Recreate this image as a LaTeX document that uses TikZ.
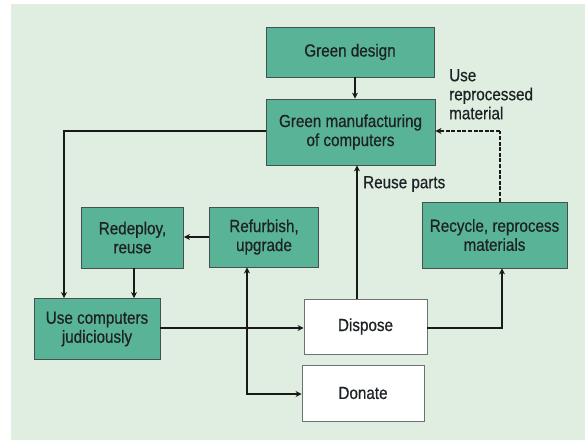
\documentclass[tikz,border=0pt]{standalone}
\usepackage{fontspec}
\setmainfont{Liberation Sans}[FakeStretch=0.87,FakeBold=0.6]
\usetikzlibrary{arrows.meta,calc}
\definecolor{bgc}{RGB}{223,238,224}
\definecolor{boxc}{RGB}{89,180,151}
\definecolor{edgec}{RGB}{70,80,76}
\definecolor{txtc}{RGB}{30,34,36}
\begin{document}
\begin{tikzpicture}[x=1pt,y=-1pt,
  every node/.style={font=\fontsize{17.5}{19}\selectfont, text=txtc},
  gbox/.style={draw=edgec, line width=0.9pt, fill=boxc, align=center, inner sep=0pt},
  wbox/.style={draw=edgec!80, line width=0.9pt, fill=white, align=center, inner sep=0pt},
  conn/.style={draw=black!90, line width=2.7pt, -{Stealth[length=6pt,width=6pt]}},
  thinconn/.style={draw=black!90, line width=2.1pt, -{Stealth[length=6pt,width=6pt]}},
  lbl/.style={align=left, inner sep=0pt}
]
\useasboundingbox (0,0) rectangle (585,440);
\fill[white] (0,0) rectangle (585,440);
\fill[bgc] (11,4) rectangle (585,440);

\node[gbox, minimum width=168pt, minimum height=50pt] (design) at (350,52) {Green design};
\node[gbox, minimum width=169pt, minimum height=66pt] (manuf) at (350.5,132) {Green manufacturing\\of computers};
\node[gbox, minimum width=102pt, minimum height=61pt] (redeploy) at (132.5,237.5) {Redeploy,\\reuse};
\node[gbox, minimum width=109pt, minimum height=60pt] (refurb) at (264,237) {Refurbish,\\upgrade};
\node[gbox, minimum width=145pt, minimum height=66pt] (recycle) at (494.5,235) {Recycle, reprocess\\materials};
\node[gbox, minimum width=126pt, minimum height=61pt] (use) at (97,329) {Use computers\\judiciously};
\node[wbox, minimum width=123pt, minimum height=55pt] (dispose) at (365.5,326.5) {Dispose};
\node[wbox, minimum width=122pt, minimum height=56pt] (donate) at (363,393) {Donate};

\coordinate (xa) at (355,0);
\coordinate (xl) at (64,131);
\coordinate (xr) at (357,0);
\coordinate (xrec) at (502,0);
\coordinate (xdash) at (500,131);
\coordinate (xref) at (247,394);
\coordinate (yu) at (0,328);

\node[lbl, anchor=north west] (uselbl) at (449,69) {Use\\reprocessed\\material};
\node[lbl, anchor=west] (reuselbl) at (363,184) {Reuse parts};

% connectors
\draw[thinconn] (design.south -| xa) -- (manuf.north -| xa);
\draw[conn] (manuf.west |- xl) -- (xl) -- (use.north -| xl);
\draw[thinconn] (redeploy.south -| 134,0) -- (use.north -| 134,0);
\draw[thinconn] (refurb.west) -- (redeploy.east |- refurb.west);
\draw[conn, {Stealth[length=6pt,width=6pt]}-{Stealth[length=6pt,width=6pt]}] (refurb.south -| xref) -- (xref) -- (donate.west |- xref);
\draw[conn] (use.east |- yu) -- (dispose.west |- yu);
\draw[thinconn] (dispose.north -| xr) -- (manuf.south -| xr);
\draw[conn] (dispose.east |- yu) -| (recycle.south -| xrec);
\draw[draw=black!90, line width=2.8pt, dash pattern=on 4pt off 1.6pt] (recycle.north -| xdash) -- (xdash);
\draw[draw=black!90, line width=2pt, dash pattern=on 4pt off 1.6pt, -{Stealth[length=6pt,width=6pt]}] (xdash) -- (manuf.east |- xdash);
\end{tikzpicture}
\end{document}
